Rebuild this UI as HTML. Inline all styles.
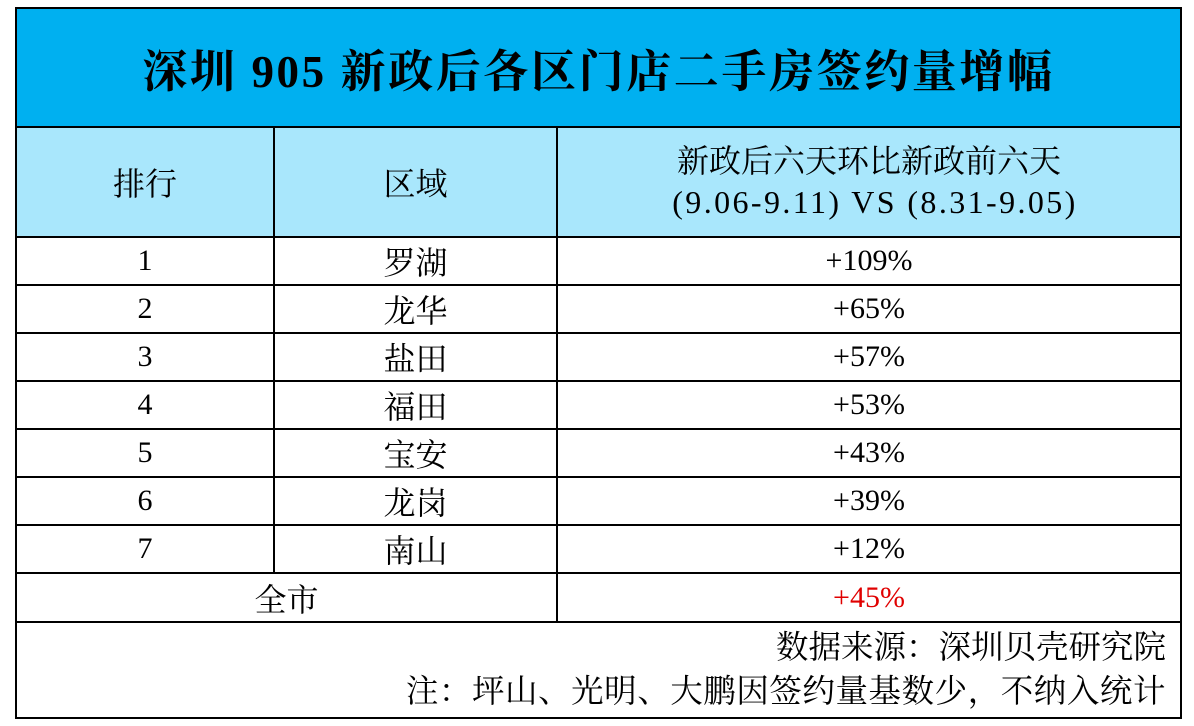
<!DOCTYPE html>
<html>
<head>
<meta charset="utf-8">
<style>
html,body{margin:0;padding:0;background:#fff;}
body{width:1194px;height:726px;position:relative;overflow:hidden;font-family:"Liberation Serif","Noto Serif CJK SC",serif;color:#000;}
.l{position:absolute;background:#000;}
.f{position:absolute;}
.c{position:absolute;display:flex;align-items:center;justify-content:center;white-space:nowrap;}
.cj{font-size:32px;}
.num{font-size:30px;}
</style>
</head>
<body>
<!-- fills -->
<div class="f" style="left:17px;top:9px;width:1163px;height:117px;background:#00B0F0;"></div>
<div class="f" style="left:17px;top:128px;width:1163px;height:108px;background:#A9E7FC;"></div>

<!-- title -->
<div class="c" style="left:17px;top:9px;width:1163px;height:117px;font-size:45px;font-weight:bold;letter-spacing:2.6px;">深圳 905 新政后各区门店二手房签约量增幅</div>

<!-- header -->
<div class="c cj" style="left:17px;top:128px;width:256px;height:108px;">排行</div>
<div class="c cj" style="left:275px;top:128px;width:281px;height:108px;">区域</div>
<div class="c cj" style="left:558px;top:140px;width:622px;height:38px;">新政后六天环比新政前六天</div>
<div class="c" style="left:564px;top:183px;width:622px;height:38px;font-size:32px;letter-spacing:2.4px;">(9.06-9.11) VS (8.31-9.05)</div>

<!-- rows -->
<div class="c num" style="left:17px;top:238px;width:256px;height:46px;">1</div>
<div class="c cj" style="left:275px;top:238px;width:281px;height:46px;">罗湖</div>
<div class="c num" style="left:558px;top:238px;width:622px;height:46px;">+109%</div>

<div class="c num" style="left:17px;top:286px;width:256px;height:46px;">2</div>
<div class="c cj" style="left:275px;top:286px;width:281px;height:46px;">龙华</div>
<div class="c num" style="left:558px;top:286px;width:622px;height:46px;">+65%</div>

<div class="c num" style="left:17px;top:334px;width:256px;height:46px;">3</div>
<div class="c cj" style="left:275px;top:334px;width:281px;height:46px;">盐田</div>
<div class="c num" style="left:558px;top:334px;width:622px;height:46px;">+57%</div>

<div class="c num" style="left:17px;top:382px;width:256px;height:46px;">4</div>
<div class="c cj" style="left:275px;top:382px;width:281px;height:46px;">福田</div>
<div class="c num" style="left:558px;top:382px;width:622px;height:46px;">+53%</div>

<div class="c num" style="left:17px;top:430px;width:256px;height:46px;">5</div>
<div class="c cj" style="left:275px;top:430px;width:281px;height:46px;">宝安</div>
<div class="c num" style="left:558px;top:430px;width:622px;height:46px;">+43%</div>

<div class="c num" style="left:17px;top:478px;width:256px;height:46px;">6</div>
<div class="c cj" style="left:275px;top:478px;width:281px;height:46px;">龙岗</div>
<div class="c num" style="left:558px;top:478px;width:622px;height:46px;">+39%</div>

<div class="c num" style="left:17px;top:526px;width:256px;height:46px;">7</div>
<div class="c cj" style="left:275px;top:526px;width:281px;height:46px;">南山</div>
<div class="c num" style="left:558px;top:526px;width:622px;height:46px;">+12%</div>

<div class="c cj" style="left:17px;top:574px;width:539px;height:47px;">全市</div>
<div class="c num" style="left:558px;top:574px;width:622px;height:47px;color:#E00000;">+45%</div>

<!-- footer -->
<div class="f" style="right:28px;top:628px;height:40px;line-height:40px;font-size:32.5px;white-space:nowrap;">数据来源：深圳贝壳研究院</div>
<div class="f" style="right:28px;top:672px;height:40px;line-height:40px;font-size:32.5px;letter-spacing:0.55px;white-space:nowrap;">注：坪山、光明、大鹏因签约量基数少，不纳入统计</div>

<!-- lines -->
<div class="l" style="left:15px;top:7px;width:1167px;height:2px;"></div>
<div class="l" style="left:15px;top:717px;width:1167px;height:2px;"></div>
<div class="l" style="left:15px;top:7px;width:2px;height:712px;"></div>
<div class="l" style="left:1180px;top:7px;width:2px;height:712px;"></div>
<div class="l" style="left:15px;top:126px;width:1167px;height:2px;"></div>
<div class="l" style="left:15px;top:236px;width:1167px;height:2px;"></div>
<div class="l" style="left:15px;top:284px;width:1167px;height:2px;"></div>
<div class="l" style="left:15px;top:332px;width:1167px;height:2px;"></div>
<div class="l" style="left:15px;top:380px;width:1167px;height:2px;"></div>
<div class="l" style="left:15px;top:428px;width:1167px;height:2px;"></div>
<div class="l" style="left:15px;top:476px;width:1167px;height:2px;"></div>
<div class="l" style="left:15px;top:524px;width:1167px;height:2px;"></div>
<div class="l" style="left:15px;top:572px;width:1167px;height:2px;"></div>
<div class="l" style="left:15px;top:621px;width:1167px;height:2px;"></div>
<div class="l" style="left:273px;top:126px;width:2px;height:448px;"></div>
<div class="l" style="left:556px;top:126px;width:2px;height:497px;"></div>
</body>
</html>
